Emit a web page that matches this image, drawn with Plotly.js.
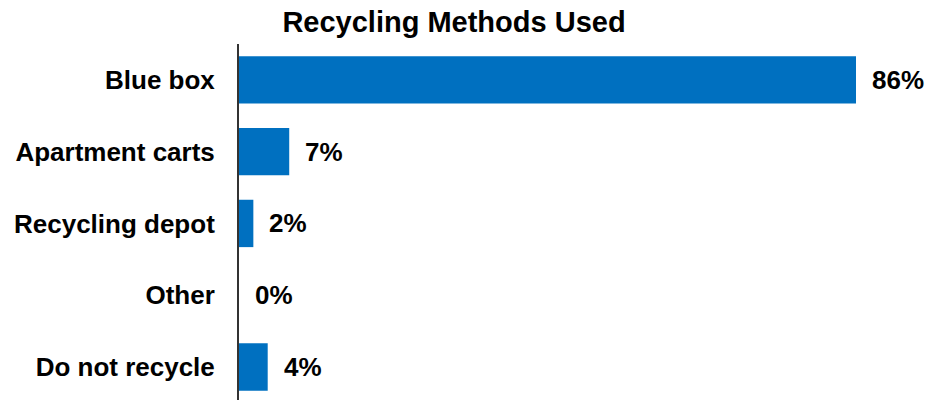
<!DOCTYPE html>
<html>
<head>
<meta charset="utf-8">
<script src="https://cdn.plot.ly/plotly-3.0.1.min.js"></script>
<style>html,body{margin:0;padding:0;background:#fff;}#chart{width:930px;height:400px;}</style>
</head>
<body>
<div id="chart"></div>
<script>
const categories = ["Blue box", "Apartment carts", "Recycling depot", "Other", "Do not recycle"];
const values = [86, 7, 2, 0, 4];
const labels = ["86%", "7%", "2%", "0%", "4%"];

const FONT = "'Liberation Sans', Arial, sans-serif";

const trace = {
  type: "bar",
  orientation: "h",
  y: categories,
  x: values,
  marker: {color: "#0070C0"},
  hoverinfo: "skip"
};

const annotations = categories.map((c, i) => ({
  x: values[i], y: c, xref: "x", yref: "y",
  text: "<b>" + labels[i] + "</b>",
  showarrow: false, xanchor: "left", yanchor: "middle", xshift: 14,
  font: {family: FONT, size: 26, color: "#000"}
}));

const layout = {
  width: 930, height: 400,
  margin: {l: 239, r: 8, t: 44, b: 0},
  paper_bgcolor: "#fff", plot_bgcolor: "#fff",
  showlegend: false,
  bargap: 0.34,
  title: {
    text: "<b>Recycling Methods Used</b>",
    x: 454/930, xref: "container", xanchor: "center",
    y: 1 - 22/400, yref: "container", yanchor: "middle",
    font: {family: FONT, size: 29, color: "#000"}
  },
  xaxis: {
    range: [0, 95.2], showgrid: false, zeroline: false, showline: false,
    showticklabels: false, ticks: "", fixedrange: true
  },
  yaxis: {
    type: "category", categoryorder: "array", categoryarray: categories,
    range: [4.46, -0.5], showgrid: false, zeroline: false,
    showline: true, linecolor: "#333", linewidth: 2,
    ticks: "", ticklabelstandoff: 17,
    tickfont: {family: FONT, size: 26, color: "#000", weight: "bold"},
    fixedrange: true
  },
  annotations: annotations
};

Plotly.newPlot("chart", [trace], layout, {displayModeBar: false, staticPlot: true});
</script>
</body>
</html>
